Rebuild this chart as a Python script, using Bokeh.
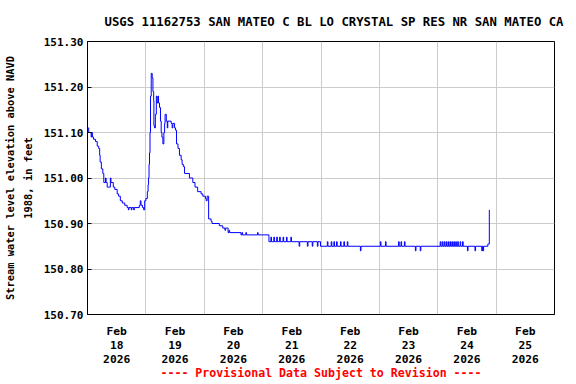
from bokeh.plotting import figure
from bokeh.models import Range1d, FixedTicker, PrintfTickFormatter, Title, ColumnDataSource
from bokeh.embed import file_html
from bokeh.resources import INLINE

station_title = "USGS 11162753 SAN MATEO C BL LO CRYSTAL SP RES NR SAN MATEO CA"
y_label = "Stream water level elevation above NAVD\n1988, in feet"
footer_text = "---- Provisional Data Subject to Revision ----"

# x axis: hours since Feb 18 2026 00:00
month_name = "Feb"
year_name = "2026"
day_names = ["18", "19", "20", "21", "22", "23", "24", "25"]
y_ticks = [150.70, 150.80, 150.90, 151.00, 151.10, 151.20, 151.30]

# change points of the 15-minute record (hours since Feb 18 00:00, level in ft)
hours = [
    0.0, 0.5, 1.5, 1.75, 2.0, 2.5, 3.3, 4.0, 4.6, 5.0, 5.2, 5.7, 6.3, 6.7, 7.4, 7.65,
    8.1, 9.4, 9.65, 10.6, 11.2, 12.2, 12.8, 13.5, 14.3, 15.3, 16.3, 16.8, 17.05, 18.0,
    18.25, 19.0, 19.25, 21.3, 21.7, 22.0, 22.6, 23.1, 23.5, 24.0, 24.6, 24.9, 25.1,
    25.3, 25.5, 25.7, 25.9, 26.2, 26.6, 26.9, 27.2, 27.3, 27.6, 27.9, 28.3, 28.6, 29.0,
    29.2, 29.6, 30.0, 30.3, 30.6, 31.0, 31.4, 31.7, 31.9, 32.4, 32.8, 33.0, 34.4, 34.8,
    35.1, 35.8, 36.2, 36.6, 37.2, 37.8, 38.5, 38.9, 39.4, 39.9, 41.9, 43.3, 44.2, 45.3,
    46.7, 47.4, 48.5, 48.8, 49.2, 49.8, 50.8, 51.2, 54.2, 55.6, 56.5, 56.75, 57.8, 58.2,
    58.45, 63.1, 63.5, 63.75, 65.1, 65.35, 69.9, 70.15, 74.6, 75.4, 75.65, 76.6, 76.85,
    77.8, 78.05, 79.0, 79.25, 80.4, 80.65, 81.8, 82.05, 83.6, 83.85, 87.0, 87.25, 90.4,
    90.65, 92.4, 92.65, 94.5, 94.75, 95.8, 98.6, 98.85, 100.2, 100.45, 101.3, 101.55,
    102.4, 102.65, 104.0, 104.25, 105.4, 105.65, 106.8, 107.05, 112.2, 112.45, 120.4,
    120.65, 122.5, 122.75, 127.9, 128.15, 128.9, 129.15, 130.3, 130.55, 134.8, 135.05,
    136.8, 137.05, 145.0, 145.25, 145.8, 146.05, 146.6, 146.85, 147.4, 147.65, 148.2,
    148.45, 149.0, 149.25, 149.8, 150.05, 150.6, 150.85, 151.4, 151.65, 152.2, 152.45,
    153.2, 153.45, 154.2, 154.45, 156.2, 156.45, 159.3, 159.55, 162.1, 162.35, 162.6,
    162.85, 164.6, 165.2,
]
level = [
    151.11, 151.10, 151.09, 151.10, 151.09, 151.085, 151.08, 151.07, 151.065, 151.05,
    151.035, 151.02, 151.01, 150.99, 151.00, 150.99,
    150.98, 151.00, 150.99, 150.98, 150.975, 150.965, 150.96, 150.95, 150.945, 150.94,
    150.935, 150.93, 150.935, 150.93,
    150.935, 150.93, 150.935, 150.94, 150.95, 150.94, 150.935, 150.93, 150.95, 150.955,
    150.97, 150.985, 151.00,
    151.03, 151.055, 151.10, 151.18, 151.23, 151.22, 151.19, 151.17, 151.115, 151.11,
    151.14, 151.18, 151.165, 151.18,
    151.165, 151.155, 151.125, 151.10, 151.09, 151.075, 151.10, 151.12, 151.14, 151.125,
    151.11, 151.125, 151.12, 151.11,
    151.12, 151.11, 151.105, 151.075, 151.065, 151.05, 151.04, 151.03, 151.025, 151.01,
    151.00, 150.99, 150.98, 150.97,
    150.965, 150.96, 150.955, 150.95, 150.96, 150.91, 150.905, 150.90, 150.895, 150.89,
    150.885, 150.89, 150.88, 150.885,
    150.88, 150.875, 150.88, 150.875, 150.88, 150.875, 150.88, 150.875, 150.86, 150.87,
    150.86, 150.87, 150.86,
    150.87, 150.86, 150.87, 150.86, 150.87, 150.86, 150.87, 150.86, 150.87, 150.86,
    150.85, 150.86, 150.85,
    150.86, 150.85, 150.86, 150.85, 150.86, 150.85, 150.86, 150.85, 150.86, 150.85,
    150.86, 150.85,
    150.86, 150.85, 150.86, 150.85, 150.86, 150.85, 150.86, 150.85, 150.84, 150.85,
    150.86,
    150.85, 150.86, 150.85, 150.86, 150.85, 150.86, 150.85, 150.86, 150.85, 150.84,
    150.85,
    150.84, 150.85, 150.86, 150.85, 150.86, 150.85, 150.86, 150.85, 150.86, 150.85,
    150.86,
    150.85, 150.86, 150.85, 150.86, 150.85, 150.86, 150.85, 150.86, 150.85, 150.86,
    150.85,
    150.86, 150.85, 150.86, 150.85, 150.84, 150.85, 150.84, 150.85, 150.84, 150.85,
    150.84,
    150.85, 150.855, 150.93,
]

FONT = "DejaVu Sans Mono"

source = ColumnDataSource(data=dict(hours=hours[:len(level)], level=level[:len(hours)]))

p = figure(
    width=576, height=384, output_backend="svg", toolbar_location=None,
    x_range=Range1d(0, 24 * len(day_names)), y_range=Range1d(y_ticks[0], y_ticks[-1]),
    min_border_left=85, min_border_right=22, min_border_top=41, min_border_bottom=70,
    background_fill_color="white", border_fill_color="white",
)

p.step(x="hours", y="level", source=source, mode="after", line_color="#0000ff", line_width=1)

# title
p.title.text = station_title
p.title.align = "left"
p.title.offset = 17
p.title.standoff = 25
p.title.text_font = FONT
p.title.text_font_size = "12.3px"
p.title.text_font_style = "bold"
p.title.text_color = "black"

# footer
p.add_layout(Title(text=footer_text, align="center", text_color="red", text_font=FONT,
                   text_font_size="11.6px", text_font_style="bold", standoff=-10), "below")

# x axis: labels at noon, grid at midnight
label_ticks = [24 * i + 12 for i in range(len(day_names))]
grid_ticks = [24 * i for i in range(1, len(day_names))]
p.xaxis.ticker = FixedTicker(ticks=label_ticks)
p.xaxis.major_label_overrides = {t: f"{month_name}\n{d}\n{year_name}" for t, d in zip(label_ticks, day_names)}
p.xaxis.major_tick_in = 0
p.xaxis.major_tick_out = 0
p.xaxis.minor_tick_line_color = None
p.xaxis.major_label_standoff = 10
p.xaxis.major_label_text_font = FONT
p.xaxis.major_label_text_font_size = "11.3px"
p.xaxis.major_label_text_font_style = "bold"
p.xaxis.major_label_text_color = "black"
p.xaxis.major_label_text_line_height = 1.08
p.xaxis.axis_line_color = "black"
p.xgrid.ticker = FixedTicker(ticks=grid_ticks)

# y axis
p.yaxis.ticker = FixedTicker(ticks=y_ticks)
p.yaxis.formatter = PrintfTickFormatter(format="%.2f")
p.yaxis.major_tick_in = 4
p.yaxis.major_tick_out = 0
p.yaxis.major_tick_line_color = "black"
p.yaxis.minor_tick_line_color = None
p.yaxis.major_label_standoff = 4
p.yaxis.major_label_text_font = FONT
p.yaxis.major_label_text_font_size = "11px"
p.yaxis.major_label_text_font_style = "bold"
p.yaxis.major_label_text_color = "black"
p.yaxis.axis_label = y_label
p.yaxis.axis_label_standoff = 7
p.yaxis.axis_label_text_font = FONT
p.yaxis.axis_label_text_font_size = "10.4px"
p.yaxis.axis_label_text_font_style = "bold"
p.yaxis.axis_label_text_color = "black"
p.yaxis.axis_label_text_line_height = 1.5
p.yaxis.axis_line_color = "black"
p.ygrid.ticker = FixedTicker(ticks=y_ticks)

for g in (p.xgrid, p.ygrid):
    g.grid_line_color = "#cccccc"
    g.grid_line_width = 1
    g.grid_line_alpha = 1.0

p.outline_line_color = "black"
p.outline_line_width = 1
p.outline_line_alpha = 1.0

open("out.html", "w").write(file_html(p, INLINE))
